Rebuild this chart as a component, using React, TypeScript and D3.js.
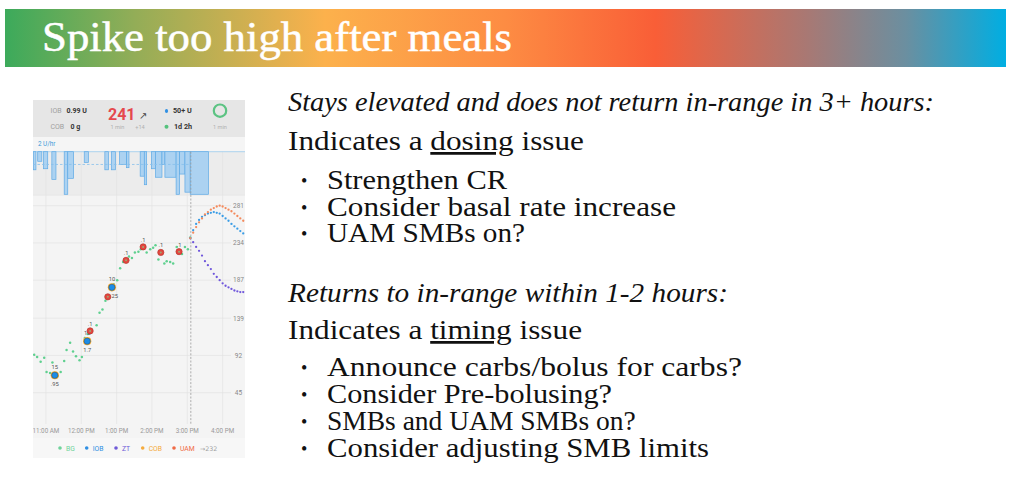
import React from "react";
import * as d3 from "d3";

// ---------- slide text ----------
const titleText = "Spike too high after meals";
const heading1 = "Stays elevated and does not return in-range in 3+ hours:";
const lead1 = ["Indicates a ", "dosing", " issue"];
const bullets1 = ["Strengthen CR", "Consider basal rate increase", "UAM SMBs on?"];
const heading2 = "Returns to in-range within 1-2 hours:";
const lead2 = ["Indicates a ", "timing", " issue"];
const bullets2 = [
  "Announce carbs/bolus for carbs?",
  "Consider Pre-bolusing?",
  "SMBs and UAM SMBs on?",
  "Consider adjusting SMB limits",
];

// ---------- chart data (minutes relative to 11:00 AM, mg/dL) ----------
const xTickMinutes = [0, 60, 120, 180, 240, 300];
const xTickLabels = ["11:00 AM", "12:00 PM", "1:00 PM", "2:00 PM", "3:00 PM", "4:00 PM"];
const yTicks = [45, 92, 139, 187, 234, 281];
const nowMinute = 246;

const bgTimes = [-20, -15, -9, -3, 1, 7, 11, 14, 20, 25, 31, 35, 41, 46, 51, 57, 61, 66, 71, 76, 86, 91, 96, 101, 105, 110, 115, 121, 126, 131, 136, 141, 146, 151, 157, 161, 165, 171, 177, 182, 186, 191, 195, 201, 205, 211, 216, 222, 226, 231, 236, 241, 245];
const bgValues = [93, 90, 84, 89, 71, 70, 83, 67, 66, 71, 85, 99, 108, 97, 91, 86, 90, 114, 119, 123, 130, 146, 150, 161, 166, 176, 182, 187, 202, 210, 212, 217, 215, 222, 223, 226, 230, 222, 226, 228, 231, 213, 222, 208, 211, 210, 208, 229, 223, 220, 229, 226, 241];

// predictions every 5 minutes from 3:05 PM
const predStart = 245;
const predStep = 5;
const predUAM = [240, 247, 254, 260, 265, 270, 273, 276, 278, 280, 281, 280, 278, 276, 274, 271, 268, 265, 262];
const predIOB = [240, 250, 258, 263, 267, 269, 271, 272, 273, 272, 271, 268, 265, 262, 258, 255, 252, 249, 246];
const predZT = [240, 235, 229, 224, 218, 211, 206, 201, 195, 191, 187, 183, 180, 178, 176, 174, 173, 172, 172];

// basal: [start minute, end minute, U/hr]
const basalSegments: [number, number, number][] = [
  [-21, -17, 0.85], [-14, -7, 0.45], [-4, 3, 0.8], [10, 17, 1.3], [31, 37, 2.0], [37, 47, 1.25],
  [65, 72, 0.5], [100, 106, 0.85], [111, 118, 0.85], [125, 137, 0.6], [137, 141, 0.75],
  [160, 167, 1.15], [167, 171, 1.55], [179, 186, 0.8], [186, 197, 1.2], [197, 202, 0.6],
  [202, 221, 1.2], [221, 227, 2.0], [227, 236, 1.05], [236, 245, 1.9], [245, 276, 2.0],
];
const scheduledBasal = 0.6;

const smbTimes = [75, 105, 136, 165, 195, 226];
const smbValues = [123, 166, 212, 229, 222, 223];
const smbLabels = [".1", "", ".1", ".1", ".1", ".1"];

const bolusTimes = [15, 70, 112];
const bolusValues = [67, 110, 178];
const bolusLabels = [".95", "1.7", ".25"];
const carbLabels = ["15", "15", "10"];

const legendNames = ["BG", "IOB", "ZT", "COB", "UAM"];
const legendColors = ["#6fd39b", "#2f8fe3", "#6f5ad8", "#f5ab3d", "#f06a45"];
const eventualBG = "232";

const serif = "'Liberation Serif', 'Times New Roman', serif";
const sans = "Roboto, 'Noto Sans', sans-serif";

export default function App() {
  const x = d3.scaleLinear().domain([-22, 338]).range([33, 245]);
  const y = d3.scaleLinear().domain([45, 281]).range([392.7, 205.7]);
  const yb = d3.scaleLinear().domain([0, 2]).range([151.7, 194.3]);
  const pX = (i: number) => x(predStart + i * predStep);

  const bulletRow = (t: string, baseline: number, width: number | null, k: string) => (
    <g key={k}>
      <text x={301} y={baseline - 2} fontFamily={serif} fontSize={18} fill="#111">•</text>
      {width ? (
        <text x={327} y={baseline} fontFamily={serif} fontSize={27.5} fill="#111" textLength={width} lengthAdjust="spacingAndGlyphs">{t}</text>
      ) : (
        <text x={327} y={baseline} fontFamily={serif} fontSize={27.5} fill="#111">{t}</text>
      )}
    </g>
  );

  const b1Widths = [180, 349, 198];
  const b1Base = [189, 216, 242];
  const b2Widths: (number | null)[] = [415, 285, null, 382];
  const b2Base = [376, 403, 430, 457];

  const legendX = [60, 86.7, 116, 142.7, 174];

  return (
    <div style={{ position: "absolute", left: 0, top: 0 }}>
      <svg width={1019} height={482} viewBox="0 0 1019 482" style={{ display: "block", background: "#fff" }}>
        <defs>
          <linearGradient id="banner" x1="0" x2="1" y1="0" y2="0">
            <stop offset="0" stopColor="#3caa5b" />
            <stop offset="0.13" stopColor="#93ad57" />
            <stop offset="0.32" stopColor="#fcb14c" />
            <stop offset="0.5" stopColor="#fd8c43" />
            <stop offset="0.65" stopColor="#f95e37" />
            <stop offset="0.8" stopColor="#a97873" />
            <stop offset="0.9" stopColor="#6b8fa0" />
            <stop offset="1" stopColor="#00aee2" />
          </linearGradient>
          <clipPath id="panel">
            <rect x={33} y={100} width={212} height={358} />
          </clipPath>
        </defs>

        {/* banner */}
        <rect x={5} y={9} width={1001} height={58} fill="url(#banner)" />
        <text x={42} y={51} fontFamily={serif} fontSize={42} fill="#fff" stroke="#fff" strokeWidth={0.5} textLength={470} lengthAdjust="spacingAndGlyphs">{titleText}</text>

        {/* right text block */}
        <text x={288} y={111} fontFamily={serif} fontStyle="italic" fontSize={27} fill="#111" textLength={646} lengthAdjust="spacingAndGlyphs">{heading1}</text>
        <text x={288} y={150} fontFamily={serif} fontSize={27.5} fill="#111" textLength={296} lengthAdjust="spacingAndGlyphs">
          <tspan>{lead1[0]}</tspan>
          <tspan textDecoration="underline">{lead1[1]}</tspan>
          <tspan>{lead1[2]}</tspan>
        </text>
        {bullets1.map((t, i) => bulletRow(t, b1Base[i], b1Widths[i], "a" + i))}

        <text x={288} y={302} fontFamily={serif} fontStyle="italic" fontSize={27} fill="#111" textLength={440} lengthAdjust="spacingAndGlyphs">{heading2}</text>
        <text x={288} y={339} fontFamily={serif} fontSize={27.5} fill="#111" textLength={294} lengthAdjust="spacingAndGlyphs">
          <tspan>{lead2[0]}</tspan>
          <tspan textDecoration="underline">{lead2[1]}</tspan>
          <tspan>{lead2[2]}</tspan>
        </text>
        {bullets2.map((t, i) => bulletRow(t, b2Base[i], b2Widths[i], "b" + i))}

        {/* phone screenshot chart */}
        <g clipPath="url(#panel)">
          <rect x={33} y={100} width={212} height={358} fill="#f4f4f4" />
          <rect x={33} y={100} width={212} height={37} fill="#e6e6e6" />
          <rect x={33} y={137} width={212} height={15} fill="#f5f5f5" />
          <rect x={33} y={151.7} width={212} height={43.5} fill="#ececec" />
          <rect x={33} y={438} width={212} height={20} fill="#f7f7f7" />

          {/* header */}
          <text x={50.5} y={113.2} fontFamily={sans} fontSize={7} fill="#a0a0a0">IOB</text>
          <text x={66.5} y={113.2} fontFamily={sans} fontSize={7} fontWeight="bold" fill="#333">0.99 U</text>
          <text x={50.5} y={129.2} fontFamily={sans} fontSize={7} fill="#a0a0a0">COB</text>
          <text x={70.5} y={129.2} fontFamily={sans} fontSize={7} fontWeight="bold" fill="#333">0 g</text>
          <text x={108} y={120} fontFamily={sans} fontSize={16} fontWeight="bold" fill="#e5484d">241</text>
          <text x={139} y={118.5} fontFamily="'DejaVu Sans', sans-serif" fontSize={10} fill="#444">↗</text>
          <text x={117.5} y={128.7} fontFamily={sans} fontSize={5.6} fill="#b0b0b0" textAnchor="middle">1 min</text>
          <text x={140} y={128.7} fontFamily={sans} fontSize={5.6} fill="#b0b0b0" textAnchor="middle">+14</text>
          <ellipse cx={166.5} cy={111} rx={1.6} ry={2} fill="#2f8fe3" />
          <text x={173} y={113.2} fontFamily={sans} fontSize={7.2} fontWeight="bold" fill="#333">50+ U</text>
          <circle cx={166.5} cy={126.7} r={2} fill="#55c27d" />
          <text x={174} y={129.2} fontFamily={sans} fontSize={7.2} fontWeight="bold" fill="#333">1d 2h</text>
          <circle cx={220} cy={110.7} r={6.2} fill="none" stroke="#5cc383" strokeWidth={2.2} />
          <text x={220} y={128.7} fontFamily={sans} fontSize={5.6} fill="#b0b0b0" textAnchor="middle">1 min</text>
          <text x={38} y={145.8} fontFamily={sans} fontSize={6.3} fill="#3a9ad9">2 U/hr</text>

          {/* grid */}
          {xTickMinutes.map((m) => (
            <line key={"vg" + m} x1={x(m)} x2={x(m)} y1={151.7} y2={424} stroke="#e1e1e1" strokeWidth={0.6} />
          ))}
          {yTicks.map((v) => (
            <line key={"hg" + v} x1={33} x2={231} y1={y(v)} y2={y(v)} stroke="#e1e1e1" strokeWidth={0.6} />
          ))}
          <line x1={33} x2={245} y1={195.2} y2={195.2} stroke="#e4e4e4" strokeWidth={0.6} />

          {/* basal */}
          <line x1={33} x2={245} y1={yb(0)} y2={yb(0)} stroke="#9ccbee" strokeWidth={0.8} />
          {basalSegments.map(([s, e, r], i) => (
            <rect key={"bs" + i} x={x(s)} y={yb(0)} width={x(e) - x(s)} height={yb(r) - yb(0)}
              fill="#acd2f1" stroke="#5eaae6" strokeWidth={0.7} />
          ))}
          <line x1={33} x2={x(nowMinute)} y1={yb(scheduledBasal)} y2={yb(scheduledBasal)} stroke="#86c0ec" strokeWidth={0.8} strokeDasharray="2.5,2" />

          {/* now line */}
          <line x1={x(nowMinute)} x2={x(nowMinute)} y1={151.7} y2={424} stroke="#9a9a9a" strokeWidth={0.8} strokeDasharray="2,1.6" />

          {/* axes labels */}
          {yTicks.map((v) => (
            <text key={"yl" + v} x={238.5} y={y(v) + 2.3} fontFamily={sans} fontSize={6.5} fill="#888" textAnchor="middle">{v}</text>
          ))}
          {xTickMinutes.map((m, i) => (
            <text key={"xl" + m} x={x(m)} y={432.5} fontFamily={sans} fontSize={6.3} fill="#999" textAnchor="middle">{xTickLabels[i]}</text>
          ))}

          {/* BG */}
          {bgTimes.map((t, i) => (
            <circle key={"bg" + i} cx={x(t)} cy={y(bgValues[i])} r={1.25} fill="#5fd08f" />
          ))}

          {/* predictions */}
          {predZT.map((v, i) => (
            <circle key={"zt" + i} cx={pX(i)} cy={y(v)} r={1.15} fill="#7057dc" />
          ))}
          {predIOB.map((v, i) => (
            <circle key={"iob" + i} cx={pX(i)} cy={y(v)} r={1.15} fill="#3a9de6" />
          ))}
          {predUAM.map((v, i) => (
            <circle key={"uam" + i} cx={pX(i)} cy={y(v)} r={1.15} fill="#f48a5c" />
          ))}

          {/* carbs + boluses */}
          {bolusTimes.map((t, i) => (
            <g key={"bo" + i}>
              <circle cx={x(t)} cy={y(bolusValues[i])} r={4.1} fill="#f5a82e" />
              <circle cx={x(t)} cy={y(bolusValues[i])} r={3.1} fill="#1d8ce6" stroke="#2c5a7c" strokeWidth={0.6} />
              <text x={x(t)} y={y(bolusValues[i]) - 6.5} fontFamily={sans} fontSize={5.8} fill="#555" textAnchor="middle">{carbLabels[i]}</text>
              <text x={x(t) + (i === 2 ? 2 : 0)} y={y(bolusValues[i]) + 10.5} fontFamily={sans} fontSize={5.8} fill="#555" textAnchor="middle">{bolusLabels[i]}</text>
            </g>
          ))}

          {/* SMBs */}
          {smbTimes.map((t, i) => (
            <g key={"smb" + i}>
              <circle cx={x(t)} cy={y(smbValues[i])} r={3.1} fill="#e4463e" stroke="#b8372f" strokeWidth={0.7} />
              <circle cx={x(t)} cy={y(smbValues[i])} r={1} fill="#7fcf8f" opacity={0.7} />
              <text x={x(t)} y={y(smbValues[i]) - 5} fontFamily={sans} fontSize={5.8} fill="#555" textAnchor="middle">{smbLabels[i]}</text>
            </g>
          ))}

          {/* legend */}
          {legendNames.map((n, i) => (
            <g key={"lg" + n}>
              <circle cx={legendX[i]} cy={448} r={1.8} fill={legendColors[i]} />
              <text x={legendX[i] + 6} y={450.5} fontFamily={sans} fontSize={6.8} fill={legendColors[i]}>{n}</text>
            </g>
          ))}
          <text x={200} y={450.5} fontFamily="'DejaVu Sans', sans-serif" fontSize={6.3} fill="#a0a0a0">{"→" + eventualBG}</text>
        </g>
      </svg>
    </div>
  );
}
